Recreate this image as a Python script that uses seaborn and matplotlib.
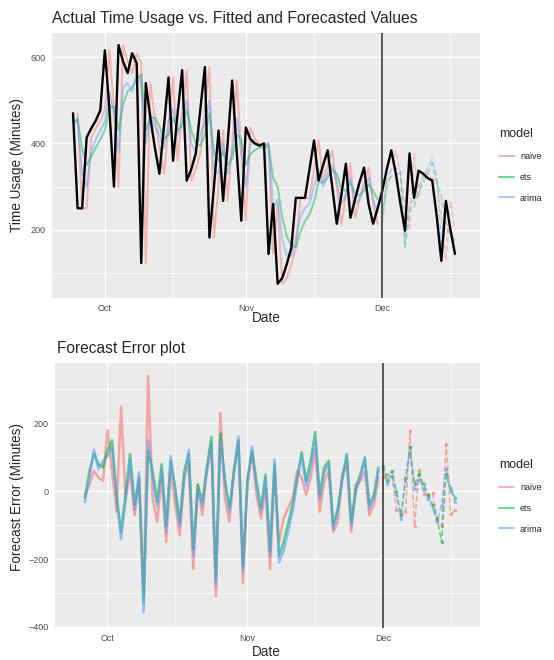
import numpy as np
import pandas as pd
import matplotlib
matplotlib.use("Agg")
import matplotlib.pyplot as plt
import matplotlib.dates as mdates
from matplotlib.lines import Line2D
import seaborn as sns

nan = np.nan

# daily observations, 24 Sep - 17 Dec
dates = pd.date_range("2023-09-24", periods=85, freq="D")
split_date = pd.Timestamp("2023-12-01")   # train / test boundary (index 68)

actual = [470, 250, 250, 414, 435, 453, 477, 616, 480, 300,
          628, 590, 563, 609, 586, 123, 540, 460, 390, 330,
          440, 553, 360, 470, 570, 314, 340, 377, 480, 577,
          182, 300, 430, 267, 400, 546, 380, 221, 437, 410,
          400, 395, 400, 144, 260, 75, 88, 120, 158, 274,
          274, 274, 340, 407, 314, 350, 384, 300, 214, 280,
          353, 228, 270, 310, 344, 260, 214, 250, 290, 340,
          384, 330, 260, 198, 377, 274, 337, 330, 320, 314,
          230, 128, 267, 200, 144]

# fitted values on the training period (24 Sep - 30 Nov)
naive_fit = [nan, 470, 250, 250, 414, 435, 453, 477, 616, 480,
             300, 628, 590, 563, 609, 586, 123, 540, 460, 390,
             330, 440, 553, 360, 470, 570, 314, 340, 377, 480,
             577, 182, 300, 430, 267, 400, 546, 380, 221, 437,
             410, 400, 395, 400, 144, 260, 75, 88, 120, 158,
             274, 274, 274, 340, 407, 314, 350, 384, 300, 214,
             280, 353, 228, 270, 310, 344, 260, 214]
ets_fit = [450, 455, 390, 350, 370, 390, 410, 430, 485, 485,
           430, 490, 520, 530, 550, 560, 430, 460, 460, 440,
           410, 420, 460, 430, 440, 480, 430, 400, 395, 420,
           470, 380, 360, 380, 350, 365, 420, 410, 350, 375,
           385, 390, 390, 395, 320, 300, 230, 185, 165, 160,
           195, 220, 235, 265, 310, 310, 320, 340, 330, 295,
           290, 310, 285, 280, 290, 305, 290, 270]
arima_fit = [440, 460, 330, 300, 380, 410, 430, 450, 520, 470,
             380, 530, 540, 520, 560, 540, 400, 470, 440, 420,
             390, 450, 480, 420, 460, 500, 400, 380, 420, 450,
             500, 340, 330, 400, 330, 380, 460, 380, 300, 400,
             400, 395, 395, 400, 250, 270, 180, 140, 140, 180,
             230, 250, 260, 300, 340, 300, 330, 350, 310, 260,
             280, 320, 260, 270, 300, 320, 270, 240]

# one-step forecasts on the test period (1 Dec - 17 Dec)
naive_fc = [250, 290, 340, 384, 330, 260, 198, 377, 274, 337,
            330, 320, 314, 230, 128, 267, 200]
ets_fc = [215, 310, 324, 330, 330, 158, 247, 254, 287, 310,
          330, 354, 310, 278, 217, 200, 164]
arima_fc = [225, 320, 340, 340, 342, 168, 262, 268, 302, 320,
            344, 364, 321, 168, 202, 190, 176]

# forecast errors (actual - predicted)
naive_err = [nan, nan, -10, 20, 60, 40, 30, 180, 60, -60,
             250, -20, 60, -70, 30, -300, 340, -20, -90, 40,
             -150, 60, -40, -130, 40, 80, -230, 20, -70, 60,
             140, -310, 232, -20, -90, 60, 140, -270, 40, 110,
             -10, -80, 10, -230, 60, -150, -80, -50, -20, 60,
             40, -10, 40, 120, -60, 30, 60, -120, -90, 50,
             80, -120, 20, 30, 60, -70, -40, 40,
             40, 50, 44, -54, -70, -62, 179, -103, 63, -7,
             -10, -6, -84, -102, 139, -67, -56]
ets_err = [nan, nan, -20, 60, 110, 80, 70, 120, 150, -10,
           -120, -10, 110, -40, 40, -330, 120, 60, -30, 80,
           -100, 90, 10, -90, 60, 110, -170, 20, -30, 70,
           160, -260, 170, 30, -50, 60, 150, -220, 30, 120,
           30, -50, 50, -175, 80, -190, -150, -95, -40, 40,
           115, 30, 90, 175, -10, 70, 90, -100, -50, 40,
           110, -90, 10, 50, 100, -40, -10, 70,
           75, 30, 60, 0, -70, 40, 130, 20, 50, 20,
           -10, -40, -80, -150, 50, 0, -20]
arima_err = [nan, nan, -32, 40, 123, 65, 90, 103, 132, -20,
             -141, -30, 94, -53, 56, -356, 150, 40, -44, 65,
             -120, 103, 0, -103, 40, 123, -191, 6, -44, 60,
             144, -280, 150, 40, -62, 50, 162, -238, 20, 132,
             15, -60, 40, -191, 94, -210, -175, -120, -60, 26,
             103, 15, 70, 153, -24, 56, 80, -112, -60, 30,
             103, -103, -3, 40, 94, -53, -20, 60,
             65, 20, 44, -10, -82, 30, 115, 6, 35, 10,
             -24, -50, -91, -40, 65, 10, -32]

models = ["naive", "ets", "arima"]
palette = {"naive": "#F8766D", "ets": "#00BA38", "arima": "#619CFF"}

n_train = len(naive_fit)
train_dates = dates[:n_train]
test_dates = dates[n_train:]

# long tables for seaborn
fit_df = pd.concat([
    pd.DataFrame({"date": train_dates, "value": v, "model": m})
    for m, v in zip(models, [naive_fit, ets_fit, arima_fit])], ignore_index=True)
fc_df = pd.concat([
    pd.DataFrame({"date": test_dates, "value": v, "model": m})
    for m, v in zip(models, [naive_fc, ets_fc, arima_fc])], ignore_index=True)
err_df = pd.concat([
    pd.DataFrame({"date": dates, "error": v, "model": m})
    for m, v in zip(models, [naive_err, ets_err, arima_err])], ignore_index=True)
err_train = err_df[err_df["date"] < split_date]
err_test = err_df[err_df["date"] >= split_date]

sns.set_style("darkgrid", {"axes.facecolor": "#EBEBEB", "grid.color": "white"})
plt.rcParams["font.family"] = ["Liberation Sans", "DejaVu Sans"]

fig = plt.figure(figsize=(5.54, 6.6), dpi=100)
W, H = 554, 660
ax1 = fig.add_axes([52 / W, 1 - 298 / H, 428 / W, 265 / H])
ax2 = fig.add_axes([55 / W, 1 - 628 / H, 425 / W, 265 / H])

xlim = (mdates.date2num(pd.Timestamp("2023-09-19 09:00")),
        mdates.date2num(pd.Timestamp("2023-12-22 12:00")))

# ---- top panel: actual vs fitted / forecast
sns.lineplot(data=fit_df, x="date", y="value", hue="model", hue_order=models,
             palette=palette, alpha=0.45, lw=1.5, estimator=None,
             legend=False, ax=ax1)
sns.lineplot(data=fc_df, x="date", y="value", hue="model", hue_order=models,
             palette=palette, alpha=0.35, lw=1.2, linestyle="--",
             estimator=None, legend=False, ax=ax1)
sns.lineplot(x=dates, y=actual, color="black", lw=1.7, ax=ax1)
ax1.set_ylim(42, 656)
ax1.set_yticks([200, 400, 600])
ax1.set_yticks([100, 300, 500], minor=True)

# ---- bottom panel: forecast error
sns.lineplot(data=err_train, x="date", y="error", hue="model", hue_order=models,
             palette=palette, alpha=0.6, lw=1.8, estimator=None,
             legend=False, ax=ax2)
sns.lineplot(data=err_test, x="date", y="error", hue="model", hue_order=models,
             palette=palette, alpha=0.6, lw=1.1, linestyle="--", marker="o",
             markersize=2.5, markeredgewidth=0, estimator=None,
             legend=False, ax=ax2)
ax2.set_ylim(-403, 378)
ax2.set_yticks([-400, -200, 0, 200])
ax2.set_yticks([-300, -100, 100, 300], minor=True)

for ax in (ax1, ax2):
    ax.axvline(split_date, color="#3a3a3a", lw=1.2, zorder=5)
    ax.set_xlim(xlim)
    ax.xaxis.set_major_locator(mdates.MonthLocator())
    ax.xaxis.set_major_formatter(mdates.DateFormatter("%b"))
    ax.xaxis.set_minor_locator(mdates.DayLocator(bymonthday=16))
    ax.grid(which="major", color="white", lw=0.9)
    ax.grid(which="minor", color="white", lw=0.45)
    ax.set_axisbelow(True)
    for s in ax.spines.values():
        s.set_visible(False)
    ax.tick_params(which="major", length=2.5, width=0.6, color="#333333",
                   labelsize=6.5, labelcolor="#4D4D4D", pad=2)
    ax.tick_params(which="minor", length=0)
    ax.set_xlabel("")
    ax.set_ylabel("")

# titles and axis labels
fig.text(52 / W, 1 - 18 / H, "Actual Time Usage vs. Fitted and Forecasted Values",
         fontsize=11.3, va="center", ha="left")
fig.text(57 / W, 1 - 349 / H, "Forecast Error plot",
         fontsize=11.2, va="center", ha="left")
fig.text(17 / W, 1 - 165 / H, "Time Usage (Minutes)", rotation=90,
         fontsize=9.8, va="center", ha="center")
fig.text(17 / W, 1 - 497 / H, "Forecast Error (Minutes)", rotation=90,
         fontsize=9.8, va="center", ha="center")
fig.text(266 / W, 1 - 318 / H, "Date", fontsize=9.8, va="center", ha="center")
fig.text(266 / W, 1 - 652 / H, "Date", fontsize=9.8, va="center", ha="center")

# legends
handles = [Line2D([], [], color=palette[m], lw=1.5, alpha=0.55) for m in models]
for top in (122, 453):
    leg = fig.legend(handles, models, title="model", loc="upper left",
                     bbox_to_anchor=(493 / W, 1 - top / H), frameon=False,
                     fontsize=6.5, title_fontsize=9, handlelength=1.6,
                     labelspacing=1.3, handletextpad=0.7, borderpad=0.2)
    leg._legend_box.align = "left"

fig.savefig("out.png", dpi=100)
